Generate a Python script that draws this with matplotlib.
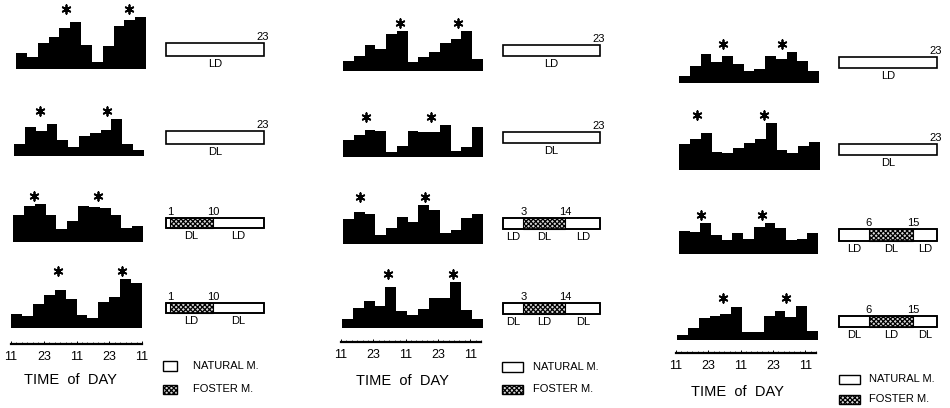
import matplotlib.pyplot as plt
import numpy as np

W, H = 950, 408

plt.rcParams["font.family"] = ["Liberation Sans", "DejaVu Sans"]
plt.rcParams["hatch.linewidth"] = 0.9

BIN_HOURS = 4
TICK_HOURS = [0, 12, 24, 36, 48]
TICK_LABELS = ["11", "23", "11", "23", "11"]

# activity per 4-h bin (arbitrary units)
COL1_ACTIVITY = [
    [48, 36, 78, 96, 123, 140, 73, 21, 68, 130, 146, 155],
    [37, 87, 74, 97, 49, 27, 59, 69, 79, 112, 37, 17],
    [82, 109, 115, 82, 39, 62, 109, 105, 102, 82, 42, 47],
    [43, 35, 71, 98, 113, 88, 38, 31, 78, 93, 146, 135],
]
COL2_ACTIVITY = [
    [29, 44, 77, 67, 110, 119, 27, 42, 57, 84, 97, 120, 37],
    [52, 67, 82, 79, 15, 32, 79, 74, 76, 97, 17, 30, 90],
    [74, 97, 90, 27, 47, 80, 67, 117, 102, 32, 42, 77, 90],
    [28, 60, 80, 67, 122, 50, 40, 57, 90, 90, 137, 55, 28],
]
COL3_ACTIVITY = [
    [22, 50, 87, 62, 82, 58, 35, 43, 82, 72, 93, 67, 35],
    [77, 92, 112, 55, 50, 67, 82, 92, 140, 60, 50, 73, 85],
    [70, 67, 94, 57, 42, 62, 44, 82, 94, 77, 42, 44, 64],
    [15, 35, 65, 72, 78, 98, 25, 23, 72, 88, 70, 102, 27],
]

# hour at which each asterisk sits
COL1_STARS = [(18.5, 41.7), (9.6, 34.3), (7.7, 31.4), (17.3, 40.6)]
COL2_STARS = [(21.2, 42.8), (8.5, 32.7), (6.3, 30.5), (17.1, 40.9)]
COL3_STARS = [(16.4, 38.3), (6.7, 31.2), (8.2, 30.9), (17.1, 40.1)]

# schematic rearing bars (days)
BAR_DAYS = 23
FOSTER_SPAN = [(1, 11), (4.8, 14.8), (7, 17.4)]
FOSTER_LABELS = [("1", "10"), ("3", "14"), ("6", "15")]
COL1_CONDITIONS = [["LD"], ["DL"], ["DL", "LD"], ["LD", "DL"]]
COL23_CONDITIONS = [["LD"], ["DL"], ["LD", "DL", "LD"], ["DL", "LD", "DL"]]

LEGEND_LABELS = ["NATURAL M.", "FOSTER M."]

# pixel layout of the three columns
COLUMNS = [
    dict(activity=COL1_ACTIVITY, stars=COL1_STARS, conds=COL1_CONDITIONS,
         hist_x=[(16, 146), (14, 144), (13, 143), (11, 142)],
         base=[69, 156, 242, 328],
         axis=(11, 142, 344), time_xy=(70, 380),
         bar_x=(166, 264), bar_y=[(43, 56), (131, 144), (218, 228), (303, 313)],
         leg_box=(163, 177), leg_y=[(361, 371), (385, 394)], leg_text=193),
    dict(activity=COL2_ACTIVITY, stars=COL2_STARS, conds=COL23_CONDITIONS,
         hist_x=[(343, 483), (343, 483), (343, 483), (342, 483)],
         base=[71, 157, 244, 328],
         axis=(341, 481, 342), time_xy=(402, 381),
         bar_x=(503, 600), bar_y=[(45, 56), (132, 143), (218, 229), (303, 314)],
         leg_box=(502, 523), leg_y=[(362, 372), (385, 394)], leg_text=533),
    dict(activity=COL3_ACTIVITY, stars=COL3_STARS, conds=COL23_CONDITIONS,
         hist_x=[(679, 819), (679, 820), (679, 818), (677, 818)],
         base=[83, 170, 254, 340],
         axis=(676, 816, 353), time_xy=(737, 392),
         bar_x=(839, 937), bar_y=[(57, 68), (144, 155), (229, 241), (316, 327)],
         leg_box=(839, 860), leg_y=[(375, 384), (395, 404)], leg_text=869),
]


def px_axes(fig, x0, y0, x1, y1):
    ax = fig.add_axes([x0 / W, 1 - y1 / H, (x1 - x0) / W, (y1 - y0) / H])
    ax.set_axis_off()
    return ax


def px_text(fig, x, y, s, **kw):
    fig.text(x / W, 1 - y / H, s, va="center", **kw)


def draw_hist(ax, values, stars):
    edges = np.arange(len(values) + 1) * BIN_HOURS
    ax.stairs(values, edges, fill=True, color="black", baseline=0)
    ax.set_xlim(0, edges[-1])
    ax.set_ylim(0, 210)
    top = max(values) + 24
    ax.scatter(stars, [top] * len(stars), marker=(6, 2, 0), s=38,
               c="black", linewidths=1.3, clip_on=False)


def draw_bar(ax, foster, marks, conds):
    ax.set_xlim(0, BAR_DAYS)
    ax.set_ylim(0, 1)
    ax.barh(0.5, BAR_DAYS, height=1, left=0, color="white",
            edgecolor="black", linewidth=1.2, clip_on=False)
    if foster is None:
        ax.annotate("23", (BAR_DAYS - 0.4, 1), xytext=(0, 1),
                    textcoords="offset points", ha="center", va="bottom",
                    fontsize=8)
        positions = [BAR_DAYS / 2]
    else:
        s0, s1 = foster
        ax.barh(0.5, s1 - s0, height=1, left=s0, facecolor="#d8d8d8",
                edgecolor="black", hatch="xxxxxxx", linewidth=0.8, clip_on=False)
        ax.barh(0.5, BAR_DAYS, height=1, left=0, fill=False,
                edgecolor="black", linewidth=1.2, clip_on=False)
        for x, lab in zip((s0, s1), marks):
            ax.annotate(lab, (x, 1), xytext=(0, 1), textcoords="offset points",
                        ha="center", va="bottom", fontsize=8)
        if len(conds) == 2:
            positions = [(s0 + s1) / 2, (s1 + BAR_DAYS) / 2]
        else:
            positions = [s0 / 2, (s0 + s1) / 2, (s1 + BAR_DAYS) / 2]
    for x, lab in zip(positions, conds):
        ax.annotate(lab, (x, 0), xytext=(0, -2), textcoords="offset points",
                    ha="center", va="top", fontsize=8)


fig = plt.figure(figsize=(W / 100, H / 100), dpi=100)

for ci, col in enumerate(COLUMNS):
    n_hours = len(col["activity"][0]) * BIN_HOURS

    for ri in range(4):
        x0, x1 = col["hist_x"][ri]
        base = col["base"][ri]
        ax = px_axes(fig, x0, base - 70, x1, base)
        draw_hist(ax, col["activity"][ri], col["stars"][ri])

        bx0, bx1 = col["bar_x"]
        by0, by1 = col["bar_y"][ri]
        bax = px_axes(fig, bx0, by0, bx1, by1)
        foster = FOSTER_SPAN[ci] if ri >= 2 else None
        draw_bar(bax, foster, FOSTER_LABELS[ci], col["conds"][ri])

    # time axis
    ax0, ax1, ay = col["axis"]
    tax = fig.add_axes([ax0 / W, 1 - ay / H, (ax1 - ax0) / W, 0.001])
    tax.set_xlim(0, n_hours)
    for side in ("top", "left", "right"):
        tax.spines[side].set_visible(False)
    tax.spines["bottom"].set_linewidth(1.6)
    tax.set_yticks([])
    tax.set_xticks(TICK_HOURS)
    tax.set_xticklabels(TICK_LABELS, fontsize=9)
    tax.set_xticks(np.arange(0, n_hours + 1, 2), minor=True)
    tax.tick_params(axis="x", which="major", direction="in", length=2.5,
                    width=0.7, pad=5)
    tax.tick_params(axis="x", which="minor", direction="in", length=1.2,
                    width=0.5)
    tx, ty = col["time_xy"]
    px_text(fig, tx, ty, "TIME  of  DAY", ha="center", fontsize=10.5)

    # legend
    lx0, lx1 = col["leg_box"]
    for li, (ly0, ly1) in enumerate(col["leg_y"]):
        lax = px_axes(fig, lx0, ly0, lx1, ly1)
        lax.set_xlim(0, 1)
        lax.set_ylim(0, 1)
        lax.barh(0.5, 1, height=1, left=0,
                 facecolor="#d8d8d8" if li == 1 else "white",
                 edgecolor="black", linewidth=1.0, clip_on=False,
                 hatch="xxxxxxx" if li == 1 else None)
        px_text(fig, col["leg_text"], (ly0 + ly1) / 2, LEGEND_LABELS[li],
                ha="left", fontsize=8)

fig.savefig("out.png", dpi=100)
